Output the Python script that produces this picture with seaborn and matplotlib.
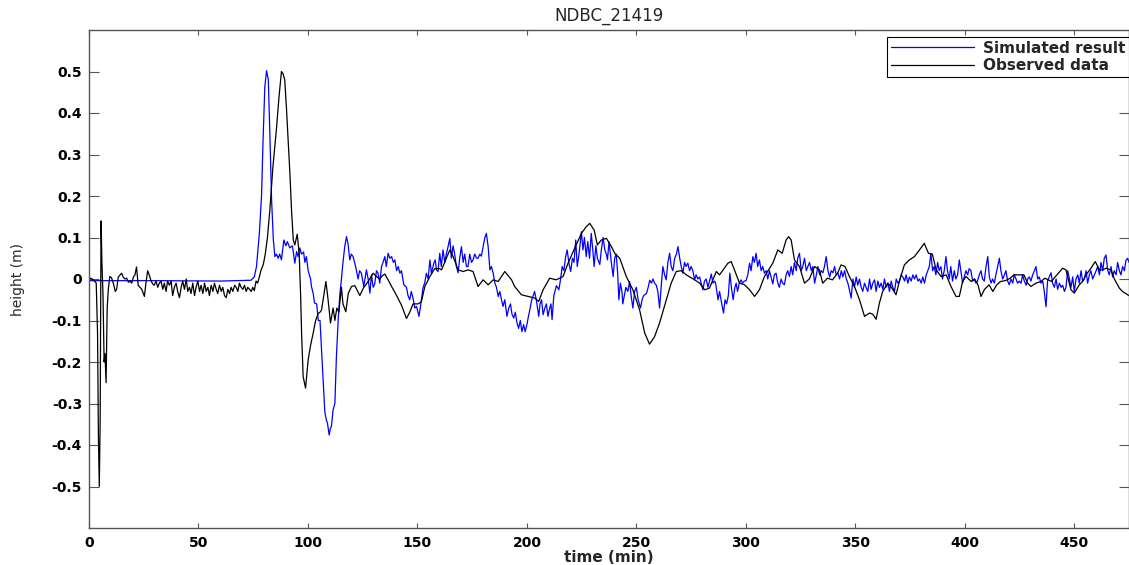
import pandas as pd
import matplotlib
matplotlib.use("Agg")
import matplotlib.pyplot as plt
import seaborn as sns

# Simulated result (blue), (time in min, height in m)
sim_points = [
    (0, -0.004), (30, -0.004), (60, -0.005), (74, -0.003), (75.5, 0.005),
    (76.5, 0.03), (77.8, 0.11), (78.8, 0.2), (79.5, 0.335), (80.3, 0.463),
    (81.1, 0.502), (81.9, 0.48), (82.6, 0.35), (83.4, 0.19), (84.2, 0.094),
    (84.9, 0.054), (85.6, 0.06), (86.4, 0.05), (87.1, 0.06), (87.9, 0.046),
    (89.0, 0.094), (89.9, 0.08), (90.6, 0.09), (91.7, 0.075), (92.9, 0.08),
    (94.0, 0.038), (94.8, 0.066), (95.5, 0.054), (96.3, 0.075), (97.0, 0.06),
    (98.0, 0.065), (98.6, 0.04), (99.3, 0.054), (100.1, 0.02), (101.2, 0.0),
    (101.6, -0.018), (102.4, -0.035), (103.0, -0.058), (104.0, -0.06),
    (104.7, -0.1), (105.5, -0.1), (106.2, -0.17), (107.0, -0.25),
    (107.7, -0.32), (108.4, -0.34), (108.9, -0.347), (109.7, -0.376),
    (110.2, -0.36), (110.7, -0.356), (111.5, -0.315), (112.3, -0.3),
    (113.0, -0.187), (113.8, -0.1), (114.6, -0.035), (115.3, 0.0),
    (116.0, 0.04), (116.8, 0.078), (117.6, 0.102), (118.3, 0.085),
    (119.1, 0.046), (119.8, 0.06), (120.6, 0.054), (121.4, 0.038),
    (122.1, 0.022), (122.9, 0.0), (123.6, 0.02), (124.4, 0.014),
    (125.5, -0.018), (126.7, 0.022), (127.5, 0.0), (128.3, -0.034),
    (129.0, 0.01), (129.8, -0.02), (130.5, -0.012), (131.3, 0.02),
    (132.0, 0.014), (132.8, -0.01), (133.6, 0.03), (134.3, 0.04),
    (135.1, 0.054), (135.8, 0.03), (136.6, 0.062), (137.4, 0.05),
    (138.2, 0.054), (139.0, 0.04), (139.7, 0.046), (140.5, 0.02),
    (141.2, 0.03), (142.0, 0.014), (142.7, 0.02), (143.8, -0.014),
    (145.0, -0.02), (145.7, -0.04), (146.5, -0.05), (147.2, -0.03),
    (148.0, -0.046), (148.8, -0.07), (149.6, -0.066), (150.7, -0.09),
    (151.3, -0.07), (151.8, -0.05), (152.6, -0.02), (153.3, -0.01),
    (154.1, 0.014), (154.9, 0.0), (155.7, 0.046), (156.4, 0.014),
    (157.5, 0.038), (158.1, 0.046), (158.7, 0.022), (159.4, 0.018),
    (160.2, 0.062), (160.9, 0.03), (161.7, 0.07), (162.5, 0.04),
    (163.2, 0.06), (164.0, 0.078), (164.8, 0.098), (165.5, 0.05),
    (166.3, 0.08), (167.0, 0.06), (167.8, 0.03), (168.6, 0.015),
    (169.3, 0.05), (170.1, 0.078), (170.9, 0.04), (171.6, 0.06),
    (172.4, 0.03), (173.1, 0.03), (173.9, 0.06), (174.7, 0.04),
    (175.4, 0.046), (176.2, 0.06), (177.0, 0.05), (177.7, 0.05),
    (178.5, 0.06), (179.2, 0.055), (180.0, 0.078), (180.8, 0.1),
    (181.5, 0.11), (182.3, 0.078), (183.1, 0.022), (183.8, 0.03),
    (184.6, 0.014), (185.4, -0.01), (186.1, -0.02), (186.9, -0.042),
    (187.6, -0.03), (188.4, -0.05), (189.1, -0.066), (189.9, -0.05),
    (190.9, -0.09), (191.7, -0.07), (192.5, -0.06), (193.2, -0.085),
    (194.0, -0.094), (194.7, -0.08), (195.5, -0.106), (196.2, -0.119),
    (197.0, -0.1), (197.7, -0.127), (198.5, -0.11), (199.2, -0.127),
    (200.0, -0.11), (200.7, -0.09), (201.5, -0.07), (202.2, -0.05),
    (202.9, -0.04), (203.5, -0.03), (204.3, -0.05), (205.4, -0.09),
    (206.0, -0.06), (206.7, -0.05), (207.4, -0.086), (208.2, -0.07),
    (208.9, -0.06), (209.6, -0.09), (210.4, -0.07), (211.0, -0.06),
    (211.5, -0.098), (212.3, -0.04), (213.5, -0.016), (214.6, -0.026),
    (215.4, 0.0), (216.1, 0.03), (216.9, 0.02), (217.7, 0.054),
    (218.4, 0.07), (219.2, 0.038), (220.0, 0.018), (220.8, 0.05),
    (221.5, 0.04), (222.3, 0.094), (223.0, 0.03), (223.8, 0.06),
    (224.9, 0.114), (225.6, 0.07), (226.3, 0.1), (227.1, 0.054),
    (227.8, 0.09), (228.6, 0.05), (229.4, 0.11), (230.1, 0.07),
    (230.7, 0.03), (231.5, 0.08), (232.2, 0.05), (233.3, 0.035),
    (234.0, 0.07), (234.8, 0.1), (235.6, 0.07), (236.3, 0.06),
    (236.8, 0.046), (237.5, 0.09), (238.6, 0.038), (239.4, 0.006),
    (240.1, 0.05), (240.8, 0.06), (241.5, 0.01), (242.0, -0.05),
    (242.7, -0.01), (243.4, -0.03), (243.8, -0.06), (244.5, -0.04),
    (245.2, -0.02), (246.1, -0.03), (246.9, -0.006), (247.6, -0.04),
    (248.4, -0.07), (249.2, -0.03), (250.0, -0.02), (250.8, -0.05),
    (251.9, -0.07), (252.6, -0.05), (253.3, -0.04), (254.6, -0.035),
    (255.4, -0.02), (256.1, -0.003), (256.9, -0.01), (257.6, 0.0),
    (258.3, -0.01), (259.1, -0.015), (259.8, -0.03), (260.6, -0.07),
    (261.3, -0.02), (262.1, 0.03), (262.9, 0.01), (263.6, -0.002),
    (264.4, 0.04), (265.2, 0.062), (265.9, 0.03), (266.7, 0.02),
    (267.5, 0.05), (268.3, 0.06), (269.0, 0.078), (269.8, 0.05),
    (270.5, 0.03), (271.2, 0.014), (272.0, 0.04), (272.7, 0.03),
    (273.5, 0.038), (274.3, 0.02), (275.0, 0.03), (275.8, 0.02),
    (276.6, -0.002), (277.3, 0.01), (278.1, 0.0), (278.9, 0.005),
    (279.6, -0.01), (280.4, -0.026), (281.1, -0.005), (281.9, 0.0),
    (282.7, -0.02), (283.4, -0.005), (284.2, 0.012), (285.0, -0.01),
    (285.7, -0.005), (286.2, -0.01), (287.3, -0.05), (288.0, -0.03),
    (289.0, -0.06), (289.8, -0.082), (290.5, -0.05), (291.2, -0.06),
    (292.0, -0.04), (292.7, 0.014), (293.4, -0.02), (294.2, -0.05),
    (295.0, -0.02), (295.6, -0.01), (296.2, -0.03), (297.0, -0.01),
    (297.8, -0.002), (298.5, -0.01), (299.3, -0.005), (300.1, -0.004),
    (300.9, 0.01), (301.7, 0.038), (302.4, 0.02), (303.2, 0.054),
    (303.9, 0.04), (304.7, 0.062), (305.4, 0.03), (306.2, 0.046),
    (307.0, 0.02), (307.7, 0.03), (308.5, 0.014), (309.3, 0.02),
    (310.0, 0.0), (310.8, 0.02), (311.5, 0.005), (312.3, -0.012),
    (313.0, 0.01), (313.8, 0.014), (314.6, -0.01), (315.3, -0.02),
    (316.1, 0.0), (316.8, -0.01), (317.6, -0.014), (318.4, 0.01),
    (319.1, 0.02), (319.9, 0.006), (320.7, 0.03), (321.4, 0.01),
    (322.2, 0.04), (323.0, 0.02), (323.7, 0.05), (324.5, 0.062),
    (325.3, 0.02), (326.0, 0.03), (326.8, 0.05), (327.6, 0.02),
    (328.3, 0.03), (329.1, 0.04), (329.9, 0.02), (330.6, 0.03),
    (331.4, -0.01), (332.2, 0.01), (332.9, 0.03), (333.7, 0.01),
    (334.4, 0.02), (335.2, 0.015), (335.9, 0.03), (336.7, 0.054),
    (337.5, 0.02), (338.3, 0.005), (339.0, 0.02), (339.8, 0.015),
    (340.5, 0.03), (341.3, 0.01), (342.0, 0.015), (342.8, 0.0),
    (343.6, 0.02), (344.3, 0.005), (345.1, 0.02), (345.9, 0.0),
    (346.6, -0.01), (347.3, -0.026), (348.1, -0.046), (348.9, 0.0),
    (349.6, -0.02), (350.4, 0.005), (351.1, -0.015), (351.9, 0.0),
    (352.7, -0.02), (353.4, -0.03), (354.2, -0.01), (354.9, -0.02),
    (355.7, -0.03), (356.5, 0.0), (357.2, -0.025), (358.0, -0.01),
    (358.8, -0.002), (359.5, -0.03), (360.3, -0.005), (361.0, -0.02),
    (361.8, -0.01), (362.6, -0.025), (363.3, 0.0), (364.1, -0.02),
    (364.9, -0.01), (365.6, -0.03), (366.4, -0.005), (367.1, -0.02),
    (367.9, -0.03), (368.7, 0.0), (369.4, -0.01), (370.2, -0.005),
    (370.9, 0.01), (371.7, 0.005), (372.5, -0.005), (373.2, 0.01),
    (374.0, -0.01), (374.7, 0.005), (375.5, -0.005), (376.3, 0.01),
    (377.0, 0.0), (377.8, 0.01), (378.6, -0.005), (379.3, 0.0),
    (380.1, -0.01), (380.8, 0.005), (381.6, -0.01), (382.4, 0.01),
    (383.1, 0.02), (383.8, 0.03), (384.5, 0.062), (385.3, 0.02),
    (386.0, 0.03), (386.8, 0.01), (387.6, 0.04), (388.3, 0.02),
    (389.1, 0.03), (389.8, 0.0), (390.6, 0.02), (391.4, 0.054),
    (392.1, 0.02), (392.9, 0.0), (393.6, 0.03), (394.4, -0.005),
    (395.2, 0.02), (395.9, 0.0), (396.7, 0.01), (397.5, 0.046),
    (398.2, 0.02), (399.0, -0.01), (399.8, 0.006), (400.5, 0.02),
    (401.3, 0.01), (402.0, 0.025), (402.8, 0.02), (403.6, -0.005),
    (404.3, 0.0), (405.1, -0.01), (405.8, -0.005), (406.6, 0.01),
    (407.4, 0.02), (408.1, 0.0), (408.9, -0.005), (409.7, 0.03),
    (410.5, 0.054), (411.2, 0.005), (412.0, -0.01), (412.7, 0.0),
    (413.5, -0.01), (414.2, 0.01), (415.0, 0.03), (415.8, 0.05),
    (416.5, 0.02), (417.3, 0.0), (418.1, 0.01), (418.8, 0.02),
    (419.6, -0.005), (420.3, -0.014), (421.1, 0.0), (421.9, -0.01),
    (422.6, 0.01), (423.4, 0.0), (424.1, -0.01), (424.9, -0.005),
    (425.7, -0.01), (426.4, 0.01), (427.2, -0.005), (428.0, -0.015),
    (428.7, 0.0), (429.5, 0.005), (430.2, -0.005), (431.0, 0.01),
    (431.8, 0.02), (432.5, 0.03), (433.3, 0.0), (434.0, 0.005),
    (434.8, -0.01), (435.6, -0.005), (436.3, -0.03), (437.1, -0.067),
    (437.8, -0.005), (438.6, 0.005), (439.4, 0.015), (440.1, -0.01),
    (440.9, -0.02), (441.7, 0.0), (442.4, -0.025), (443.2, -0.01),
    (444.0, -0.02), (444.7, -0.015), (445.5, -0.03), (446.2, -0.02),
    (447.0, 0.02), (447.8, 0.0), (448.5, -0.02), (449.3, 0.005),
    (450.0, -0.03), (450.8, 0.0), (451.6, 0.01), (452.3, -0.01),
    (453.1, 0.02), (453.8, -0.005), (454.6, 0.0), (455.4, 0.02),
    (456.1, -0.01), (456.9, 0.01), (457.6, 0.02), (458.4, 0.0),
    (459.2, 0.01), (460.0, 0.02), (460.7, 0.03), (461.5, 0.01),
    (462.2, 0.04), (463.0, 0.02), (463.7, 0.05), (464.5, 0.058),
    (465.3, 0.02), (466.0, 0.01), (466.8, 0.03), (467.5, 0.005),
    (468.3, 0.02), (469.1, 0.01), (469.8, 0.04), (470.6, 0.02),
    (471.3, 0.01), (472.1, 0.03), (472.9, 0.02), (473.6, 0.045),
    (474.4, 0.05), (475.0, 0.04),
]

# Observed data (black)
obs_points = [
    (0, 0.003), (1.5, 0.0), (2.5, -0.005), (3.3, -0.01), (3.9, -0.13),
    (4.3, -0.38), (4.7, -0.5), (5.1, -0.34), (5.5, 0.14), (5.9, 0.04),
    (6.4, -0.04), (6.9, -0.2), (7.3, -0.18), (7.8, -0.25), (8.3, -0.07),
    (8.8, -0.026), (9.5, 0.006), (10.3, 0.003), (11.1, -0.01), (12.0, -0.03),
    (12.6, -0.025), (13.4, 0.005), (14.2, 0.01), (14.9, 0.014), (15.6, 0.005),
    (16.4, 0.0), (17.2, 0.002), (18.0, -0.008), (18.8, -0.005), (19.5, -0.01),
    (20.3, 0.005), (21.0, 0.01), (21.7, 0.029), (22.5, -0.016), (23.3, -0.02),
    (24.1, -0.025), (24.8, -0.035), (25.3, -0.042), (26.0, -0.01),
    (26.8, 0.02), (27.5, 0.01), (28.3, -0.004), (29.1, -0.012),
    (29.8, -0.015), (30.6, -0.005), (31.4, -0.02), (32.1, -0.01),
    (32.9, -0.005), (33.7, -0.025), (34.4, -0.01), (35.2, -0.03),
    (35.9, -0.005), (36.7, -0.015), (37.5, -0.005), (38.2, -0.04),
    (39.0, -0.02), (39.8, -0.01), (40.5, -0.03), (41.3, -0.045),
    (42.1, -0.02), (42.8, -0.005), (43.6, -0.025), (44.4, 0.0),
    (45.1, -0.03), (45.9, -0.02), (46.6, -0.035), (47.4, -0.01),
    (48.2, -0.04), (48.9, -0.02), (49.7, -0.005), (50.5, -0.03),
    (51.2, -0.015), (52.0, -0.035), (52.8, -0.01), (53.5, -0.03),
    (54.3, -0.02), (55.0, -0.04), (55.8, -0.015), (56.6, -0.03),
    (57.3, -0.01), (58.1, -0.025), (58.8, -0.035), (59.6, -0.015),
    (60.4, -0.03), (61.1, -0.02), (61.9, -0.04), (62.7, -0.045),
    (63.4, -0.025), (64.2, -0.035), (64.9, -0.02), (65.7, -0.03),
    (66.5, -0.015), (67.2, -0.02), (68.0, -0.03), (68.7, -0.01),
    (69.5, -0.02), (70.3, -0.025), (71.0, -0.015), (71.8, -0.03),
    (72.5, -0.02), (73.3, -0.025), (74.1, -0.03), (74.8, -0.02),
    (75.5, -0.028), (76.3, -0.005), (77.0, -0.01), (77.8, 0.005),
    (78.5, 0.02), (79.6, 0.035), (80.5, 0.06), (81.5, 0.1), (82.6, 0.166),
    (84.0, 0.27), (85.7, 0.367), (86.8, 0.44), (87.9, 0.5), (88.6, 0.495),
    (89.4, 0.48), (90.2, 0.41), (91.0, 0.33), (91.8, 0.25), (92.5, 0.166),
    (93.3, 0.094), (94.0, 0.082), (95.1, 0.108), (96.0, 0.06),
    (96.6, -0.03), (97.1, -0.13), (97.8, -0.235), (98.9, -0.263),
    (100.1, -0.195), (101.2, -0.16), (102.4, -0.13), (103.5, -0.1),
    (104.7, -0.083), (105.5, -0.08), (106.2, -0.075), (107.2, -0.04),
    (108.2, -0.006), (109.2, -0.05), (110.3, -0.106), (111.5, -0.07),
    (112.3, -0.1), (113.2, -0.07), (114.1, -0.08), (115.3, -0.02),
    (116.0, -0.06), (117.3, -0.079), (118.4, -0.035), (119.9, -0.018),
    (121.4, -0.016), (123.0, -0.033), (123.7, -0.04), (125.3, -0.022),
    (127.5, -0.006), (129.8, 0.014), (131.3, 0.006), (132.8, 0.0),
    (134.0, 0.008), (135.1, 0.012), (136.6, -0.002), (138.2, -0.018),
    (140.5, -0.04), (142.7, -0.063), (145.0, -0.095), (146.5, -0.08),
    (148.0, -0.06), (150.3, -0.06), (151.8, -0.055), (153.4, -0.018),
    (155.7, 0.006), (157.9, 0.025), (160.2, 0.025), (161.0, 0.022),
    (164.8, 0.07), (166.3, 0.054), (168.6, 0.022), (170.9, 0.018),
    (173.1, 0.022), (175.4, 0.018), (177.7, -0.018), (180.0, -0.002),
    (182.3, -0.014), (184.6, -0.002), (186.9, -0.006), (189.9, 0.018),
    (193.0, -0.002), (194.4, -0.018), (197.5, -0.038), (200.5, -0.042),
    (203.6, -0.046), (205.4, -0.054), (207.4, -0.026), (210.4, 0.002),
    (213.4, -0.002), (216.5, 0.006), (218.8, 0.038), (221.8, 0.074),
    (224.9, 0.11), (227.1, 0.126), (228.7, 0.134), (230.7, 0.118),
    (232.2, 0.082), (234.0, 0.094), (236.3, 0.098), (238.6, 0.078),
    (240.1, 0.062), (242.4, 0.05), (245.4, 0.006), (248.4, -0.026),
    (251.5, -0.075), (253.8, -0.13), (256.0, -0.157), (258.3, -0.139),
    (260.6, -0.106), (263.7, -0.05), (265.9, -0.01), (268.2, 0.018),
    (270.5, 0.02), (272.8, 0.01), (276.6, -0.002), (278.9, -0.01),
    (281.2, -0.026), (283.4, -0.022), (286.5, 0.018), (288.0, 0.01),
    (291.8, 0.038), (293.3, 0.042), (294.8, 0.022), (297.1, -0.01),
    (299.4, -0.014), (301.7, -0.026), (304.0, -0.042), (306.2, -0.026),
    (308.5, 0.006), (312.3, 0.038), (314.6, 0.07), (316.6, 0.062),
    (318.4, 0.094), (319.5, 0.102), (320.7, 0.094), (322.2, 0.046),
    (324.5, 0.03), (326.8, -0.01), (329.0, 0.0), (331.4, 0.03),
    (333.6, 0.022), (335.1, -0.01), (337.3, 0.002), (339.6, -0.002),
    (341.9, 0.014), (343.5, 0.034), (345.3, 0.03), (347.3, 0.006),
    (349.6, -0.018), (351.9, -0.05), (354.2, -0.09), (356.5, -0.082),
    (358.0, -0.085), (359.5, -0.097), (361.0, -0.058), (362.5, -0.03),
    (364.8, -0.01), (366.5, -0.02), (368.6, -0.038), (370.1, -0.006),
    (372.4, 0.034), (374.7, 0.046), (377.0, 0.054), (379.3, 0.07),
    (381.5, 0.086), (383.4, 0.062), (385.2, 0.06), (386.9, 0.022),
    (389.2, 0.006), (391.5, 0.01), (393.7, -0.018), (396.0, -0.042),
    (397.5, -0.042), (399.0, -0.006), (400.6, 0.006), (402.9, -0.006),
    (404.5, 0.0), (406.0, -0.014), (407.4, -0.042), (409.0, -0.025),
    (411.1, -0.014), (412.8, -0.03), (414.5, -0.015), (416.3, -0.006),
    (418.5, -0.004), (420.8, 0.002), (422.4, 0.01), (424.7, 0.01),
    (427.0, 0.01), (428.7, -0.01), (430.2, -0.018), (432.5, -0.01),
    (434.8, -0.006), (436.6, 0.002), (438.1, -0.002), (439.6, -0.006),
    (441.1, 0.004), (444.7, 0.026), (446.2, 0.022), (448.5, -0.026),
    (450.0, -0.034), (452.3, -0.014), (453.8, -0.006), (455.4, 0.01),
    (457.6, 0.026), (459.6, 0.042), (461.5, 0.022), (463.0, 0.022),
    (464.5, 0.026), (466.8, 0.022), (468.3, 0.0), (470.6, -0.022),
    (472.0, -0.03), (474.4, -0.038), (475.0, -0.04),
]

series_names = ["Simulated result", "Observed data"]
series_colors = ["#0000ff", "#000000"]
x_ticks = [0, 50, 100, 150, 200, 250, 300, 350, 400, 450]
y_ticks = [-0.5, -0.4, -0.3, -0.2, -0.1, 0, 0.1, 0.2, 0.3, 0.4, 0.5]
y_tick_labels = ["-0.5", "-0.4", "-0.3", "-0.2", "-0.1", "0",
                 "0.1", "0.2", "0.3", "0.4", "0.5"]

sim_df = pd.DataFrame(sim_points, columns=["time", "height"])
sim_df["series"] = series_names[0]
obs_df = pd.DataFrame(obs_points, columns=["time", "height"])
obs_df["series"] = series_names[1]
df = pd.concat([sim_df, obs_df], ignore_index=True)

sns.set_style("ticks")
plt.rcParams["font.family"] = ["DejaVu Sans"]

fig = plt.figure(figsize=(11.29, 5.65), dpi=100)
ax = fig.add_axes([89 / 1129, 37 / 565, 1040 / 1129, 498 / 565])

sns.lineplot(data=df, x="time", y="height", hue="series",
             hue_order=series_names, palette=dict(zip(series_names, series_colors)),
             estimator=None, sort=False, linewidth=0.9, ax=ax)

ax.set_xlim(0, 475)
ax.set_ylim(-0.6, 0.6)
ax.set_xticks(x_ticks)
ax.set_yticks(y_ticks)
ax.set_yticklabels(y_tick_labels)

for side in ["left", "right", "top", "bottom"]:
    ax.spines[side].set_visible(True)
    ax.spines[side].set_color("#555555")
    ax.spines[side].set_linewidth(1.0)

ax.tick_params(axis="both", direction="in", top=True, right=True,
               color="#555555", labelsize=10, labelcolor="black")
ax.tick_params(axis="y", length=7.5, pad=5)
ax.tick_params(axis="x", length=3.8, pad=6)
for lbl in ax.get_xticklabels() + ax.get_yticklabels():
    lbl.set_fontweight("bold")

ax.set_title("NDBC_21419", fontsize=12, pad=7)
ax.set_xlabel("time (min)", fontsize=11, fontweight="bold", labelpad=0)
ax.set_ylabel("height (m)", fontsize=10)
ax.yaxis.set_label_coords(-0.062, 0.5)

leg = ax.legend(loc="upper right", bbox_to_anchor=(1.0, 0.986), borderaxespad=0,
                frameon=True, fancybox=False, framealpha=1, edgecolor="black",
                handlelength=5.4, handletextpad=0.6, borderpad=0.25,
                labelspacing=0.15, prop={"size": 11, "weight": "bold"})
leg.get_frame().set_linewidth(0.8)

fig.savefig("out.png", dpi=100)
